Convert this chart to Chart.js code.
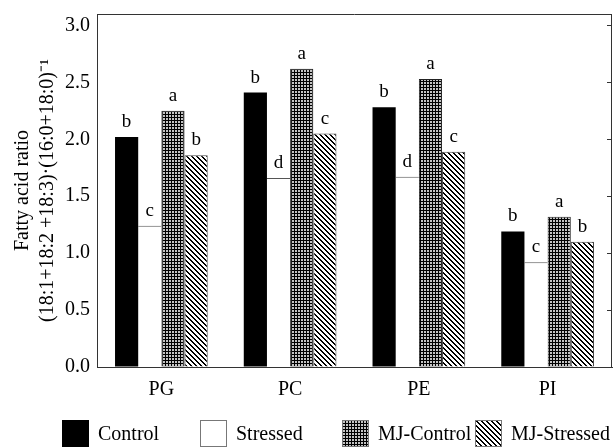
<!DOCTYPE html>
<html>
<head>
<meta charset="utf-8">
<script src="https://cdn.jsdelivr.net/npm/chart.js@4/dist/chart.umd.min.js"></script>
<style>
  html, body { margin: 0; padding: 0; background: #fff; }
  #wrap { width: 613px; height: 448px; }
</style>
</head>
<body>
<div id="wrap"><canvas id="ratioChart" width="613" height="448"></canvas></div>
<script>
const categories = ['PG', 'PC', 'PE', 'PI'];
const seriesNames = ['Control', 'Stressed', 'MJ-Control', 'MJ-Stressed'];
const control = [2.02, 2.41, 2.28, 1.19];
const stressed = [1.24, 1.66, 1.67, 0.92];
const mjControl = [2.25, 2.62, 2.53, 1.32];
const mjStressed = [1.86, 2.05, 1.89, 1.10];
const controlLetters = ['b', 'b', 'b', 'b'];
const stressedLetters = ['c', 'd', 'd', 'c'];
const mjControlLetters = ['a', 'a', 'a', 'a'];
const mjStressedLetters = ['b', 'c', 'c', 'b'];
const yTicks = [0, 0.5, 1.0, 1.5, 2.0, 2.5, 3.0];

const serif = 'Liberation Serif';

// little tiles for the print-style fills
function makePattern(size, bg, draw) {
    const c = document.createElement('canvas');
    c.width = size; c.height = size;
    const g = c.getContext('2d');
    g.fillStyle = bg;
    g.fillRect(0, 0, size, size);
    g.fillStyle = '#000';
    draw(g);
    return g.createPattern(c, 'repeat');
}
const gridFill = makePattern(3, '#c4c4c4', g => {
    g.fillRect(0, 0, 3, 1);
    g.fillRect(0, 0, 1, 3);
});
const hatchFill = makePattern(5, '#fff', g => {
    for (let x = 0; x < 5; x++) {
        for (let y = 0; y < 5; y++) {
            const d = (x - y + 5) % 5;
            if (d === 0 || d === 1) g.fillRect(x, y, 1, 1);
        }
    }
});

const letterPlugin = {
    id: 'letters',
    afterDatasetsDraw(chart) {
        const ctx = chart.ctx;
        ctx.save();
        ctx.font = '19px "' + serif + '"';
        ctx.fillStyle = '#000';
        ctx.textAlign = 'center';
        ctx.textBaseline = 'alphabetic';
        chart.data.datasets.forEach((ds, i) => {
            chart.getDatasetMeta(i).data.forEach((bar, j) => {
                ctx.fillText(ds.letters[j], bar.x, bar.y - 10);
            });
        });
        ctx.restore();
    }
};

const framePlugin = {
    id: 'frame',
    afterDraw(chart) {
        const a = chart.chartArea;
        const y = chart.scales.y;
        const ctx = chart.ctx;
        ctx.save();
        ctx.strokeStyle = '#333';
        ctx.lineWidth = 1;
        ctx.beginPath();
        ctx.moveTo(a.left, a.top + 0.5);
        ctx.lineTo(a.right, a.top + 0.5);
        ctx.moveTo(a.right - 0.5, a.top);
        ctx.lineTo(a.right - 0.5, a.bottom);
        yTicks.forEach(v => {
            const py = Math.round(y.getPixelForValue(v)) + 0.5;
            ctx.moveTo(a.right - 5, py);
            ctx.lineTo(a.right, py);
        });
        ctx.stroke();
        ctx.restore();
    }
};

// legend drawn by hand so the uneven spacing of the original can be kept
const legendSlots = [62, 200, 342, 475];
const legendPlugin = {
    id: 'bottomLegend',
    afterDraw(chart) {
        const ctx = chart.ctx;
        const top = 420, box = 27;
        ctx.save();
        ctx.font = '20px "' + serif + '"';
        ctx.textBaseline = 'middle';
        ctx.textAlign = 'left';
        chart.data.datasets.forEach((ds, i) => {
            const x = legendSlots[i];
            ctx.fillStyle = ds.backgroundColor;
            ctx.fillRect(x, top, box, box);
            ctx.strokeStyle = i === 0 ? '#000' : '#777';
            ctx.lineWidth = 1;
            ctx.strokeRect(x + 0.5, top + 0.5, box - 1, box - 1);
            ctx.fillStyle = '#000';
            ctx.fillText(ds.label, x + box + 9, top + box / 2 + 1);
        });
        ctx.restore();
    }
};

var ratioChart = new Chart(document.getElementById('ratioChart').getContext('2d'), { //eslint-disable-line
    type: 'bar',
    data: {
        labels: categories,
        datasets: [
            {
                label: seriesNames[0],
                data: control,
                letters: controlLetters,
                backgroundColor: '#000',
                borderColor: '#000',
                borderWidth: 0
            },
            {
                label: seriesNames[1],
                data: stressed,
                letters: stressedLetters,
                backgroundColor: '#fff',
                borderColor: '#555',
                borderWidth: { top: 1, left: 0, right: 0, bottom: 0 }
            },
            {
                label: seriesNames[2],
                data: mjControl,
                letters: mjControlLetters,
                backgroundColor: gridFill,
                borderColor: '#222',
                borderWidth: 1
            },
            {
                label: seriesNames[3],
                data: mjStressed,
                letters: mjStressedLetters,
                backgroundColor: hatchFill,
                borderColor: '#444',
                borderWidth: 1
            }
        ]
    },
    options: {
        responsive: false,
        animation: false,
        layout: { padding: { top: 14, right: 1, left: 0, bottom: 51 } },
        datasets: {
            bar: { categoryPercentage: 0.72, barPercentage: 1.0 }
        },
        scales: {
            x: {
                afterFit: s => { s.height = 30; },
                grid: { display: false },
                border: { color: '#333', width: 1 },
                ticks: { color: '#000', font: { family: serif, size: 20 }, padding: 3 }
            },
            y: {
                min: 0,
                max: 3.1,
                afterFit: s => { s.width = 97; s.paddingTop = 0; s.paddingBottom = 0; },
                afterBuildTicks: s => { s.ticks = yTicks.map(v => ({ value: v })); },
                grid: { drawOnChartArea: false, drawTicks: false },
                border: { color: '#333', width: 1 },
                ticks: {
                    color: '#000',
                    padding: 7,
                    font: { family: serif, size: 20 },
                    callback: v => Number(v).toFixed(1)
                },
                title: {
                    display: true,
                    text: ['Fatty acid ratio', '(18:1+18:2 +18:3)\u00b7(16:0+18:0)\u207b\u00b9'],
                    color: '#000',
                    font: { family: serif, size: 20, lineHeight: 1.25 },
                    padding: { top: 10, bottom: 0 }
                }
            }
        },
        plugins: {
            tooltip: { enabled: false },
            legend: { display: false }
        }
    },
    plugins: [letterPlugin, framePlugin, legendPlugin]
});
</script>
</body>
</html>
